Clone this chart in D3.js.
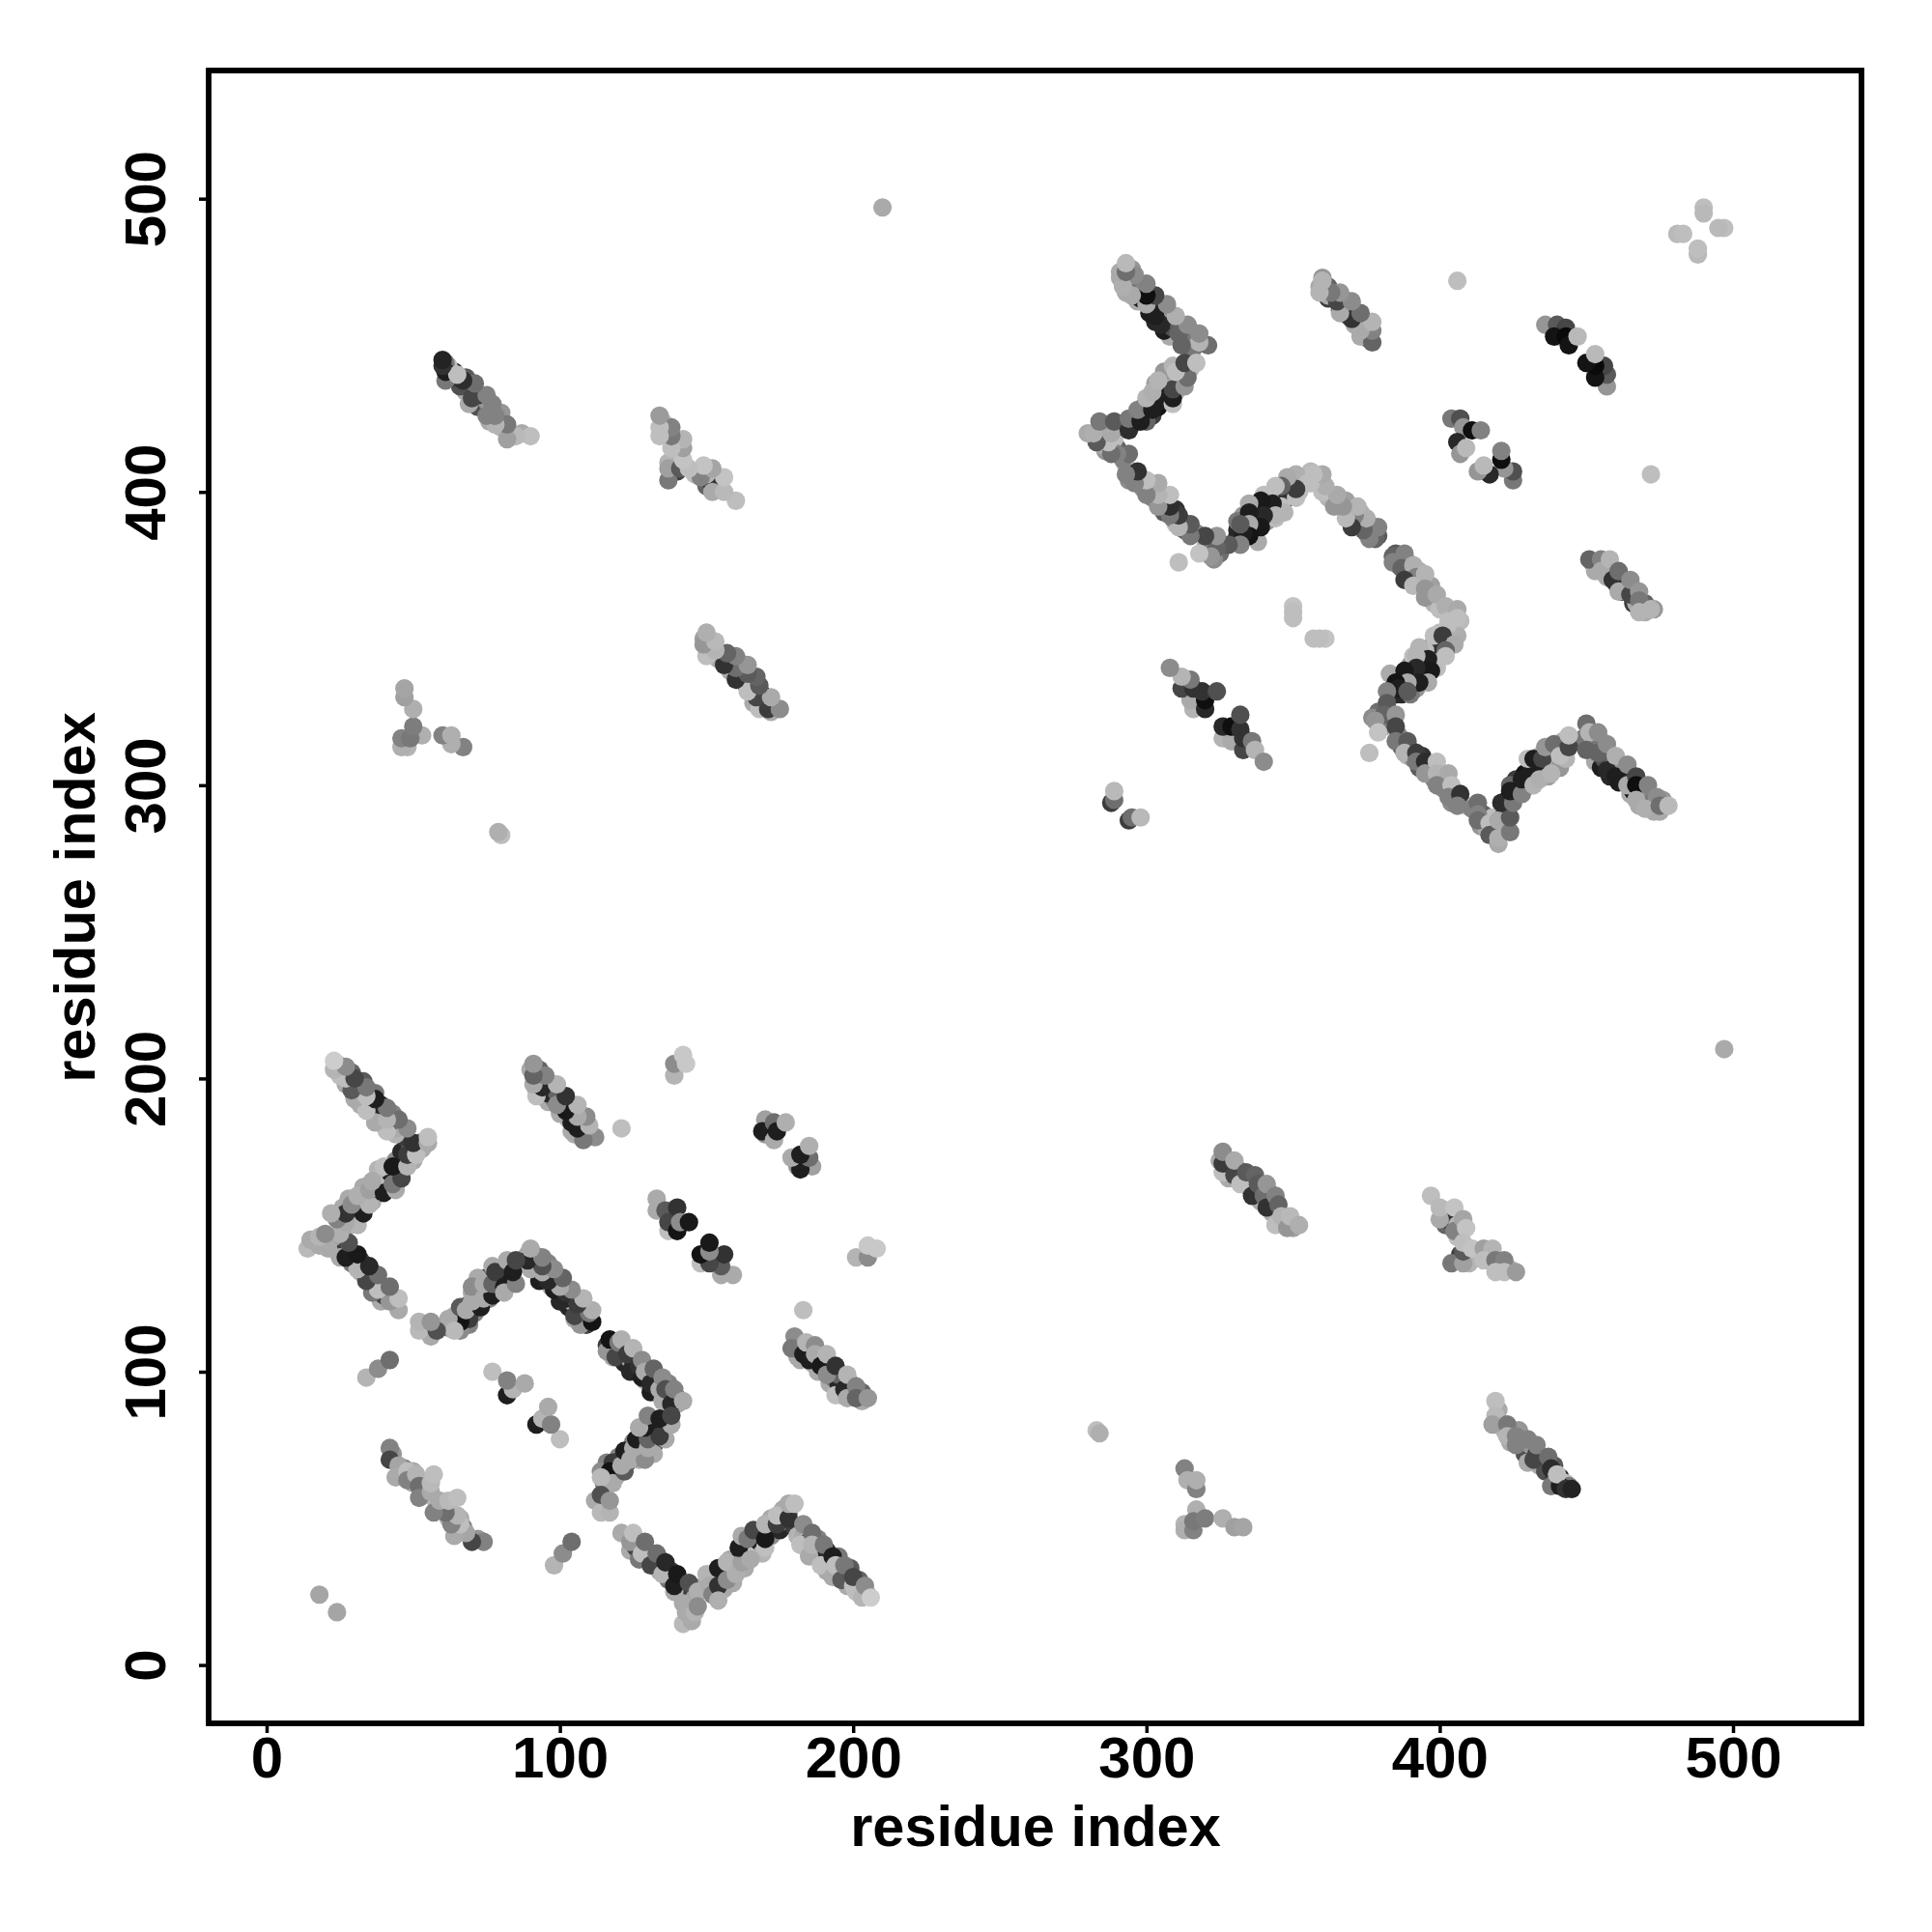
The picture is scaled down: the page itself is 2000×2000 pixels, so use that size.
<!DOCTYPE html>
<html><head><meta charset="utf-8">
<script src="https://cdn.jsdelivr.net/npm/d3@7/dist/d3.min.js"></script>
<style>html,body{margin:0;padding:0;background:#fff}svg{display:block}</style>
</head><body><div id="chart"></div>
<script>
// Each contact is [residue i, residue j, shade]; the map is symmetric, so one triangle is listed.
const tickValues = [0,100,200,300,400,500];
const axisTitle = "residue index";
const bandA1 = [[116,109,60],[118,108,40],[118,105,170],[120,107,50],[122,105,170],[122,103,40],[124,104,170],[125,102,30],[126,100,170],[126,104,120],[129,97,170],[130,98,50],[131,99,25],[133,96,170],[133,93,60],[134,97,110],[136,92,30],[137,91,170],[137,96,130],[140,91,60],[140,89,170]];
const bandA2 = [[115,62,120],[116,69,130],[117,64,150],[119,67,30],[119,64,170],[120,71,130],[121,70,60],[123,69,50],[123,71,170],[125,71,30],[125,76,130],[127,73,60],[127,70,170],[128,75,170],[128,77,40],[128,72,25],[129,79,130],[131,79,120],[132,75,40],[132,72,170],[133,81,170],[135,80,100],[136,77,170],[131,83,170],[136,83,50],[134,81,30]];
const bandA3 = [[124,39,170],[126,40,70],[127,36,120],[130,37,40],[132,34,30],[134,32,170],[134,36,30],[137,29,120],[138,32,60],[140,26,60],[141,24,170],[141,28,25],[143,24,120],[143,21,170],[144,23,60],[145,20,150],[144,16,170],[146,23,160]];
const bandA4 = [[149,27,170],[151,30,60],[152,29,30],[153,25,170],[155,30,30],[156,26,170],[156,32,120],[158,33,25],[158,36,170],[159,28,170],[160,35,30],[161,33,150],[163,38,30],[163,33,170],[163,40,170],[165,39,50],[166,41,180],[167,38,190],[167,44,40],[168,42,30],[169,45,120],[169,38,180],[171,46,60],[172,50,170],[172,44,140],[175,46,40],[176,49,110],[176,53,170],[178,52,120]];
const bandA5 = [[180,47,60],[181,44,180],[183,44,170],[184,40,170],[185,42,50],[187,38,160],[188,43,130],[188,37,30],[190,36,60],[191,32,170],[191,39,40],[192,35,80],[194,30,60],[195,37,120],[196,32,50],[198,27,170],[198,31,40],[199,33,90],[201,25,190],[202,29,100],[205,24,170]];
const bandStrandA = [[181,105,170],[181,110,50],[182,104,170],[184,107,40],[186,103,170],[188,104,50],[188,100,170],[190,103,100],[192,100,60],[192,96,170],[193,98,120],[195,96,40],[195,99,100],[196,92,170],[199,96,130],[199,93,30],[200,92,170],[203,93,100],[203,90,170]];
const bandCrossA = [[325,172,170],[328,170,60],[328,166,170],[331,169,40],[333,166,170],[335,163,60],[335,166,170],[339,162,50],[339,158,170],[342,161,110],[342,158,80],[343,154,170],[347,151,170],[350,149,160]];
const bandCrossB = [[401,154,160],[402,150,100],[403,152,170],[404,151,50],[406,146,190],[406,150,180],[407,140,60],[410,137,180],[417,140,120],[421,136,100],[424,135,180]];
const bandCrossD = [[420,87,170],[420,83,150],[422,80,180],[424,76,170],[427,80,150],[428,75,170],[429,72,80],[431,75,150],[433,72,50],[434,68,170],[435,70,130],[436,66,80],[439,68,90],[439,64,60],[441,64,40],[442,62,60],[443,62,190],[444,61,120]];
const bandStrandB = [[452,376,120],[453,373,170],[456,374,60],[457,371,170],[459,373,120],[460,369,60],[462,370,120],[462,366,40],[463,368,170],[466,367,130],[466,362,60],[467,362,170],[470,362,100],[470,359,170],[473,360,150]];
const bandPatchA5 = [[43,72,150],[46,65,170],[47,67,130],[50,62,170],[50,66,170],[54,60,180],[54,62,170],[55,58,180]];
const bandB1 = [[385,379,90],[386,375,100],[389,376,120],[390,372,100],[393,373,175],[393,369,160],[397,368,160],[398,362,180],[400,360,190],[404,358,190],[407,356,185]];
const bandB2 = [[400,352,190],[404,349,170],[399,348,120],[400,345,150],[403,350,180],[397,347,50],[395,346,190],[395,340,30],[394,342,100],[394,338,180],[398,342,160],[396,338,30],[399,340,190],[391,337,40],[390,341,150],[389,337,180],[392,333,150],[388,334,30],[387,337,100],[385,331,30],[387,331,40],[384,333,80],[390,331,120],[383,338,170],[391,344,190]];
const bandB3 = [[379,325,110],[381,320,170],[377,323,140],[383,321,130],[386,317,140],[387,313,90],[389,310,190],[390,312,100],[391,309,130],[393,306,90],[394,310,50],[396,306,170],[397,306,40],[398,302,130],[400,302,160],[402,302,190],[401,299,140],[404,294,140],[405,296,80],[409,293,190],[411,292,130],[414,286,150],[415,290,100],[416,285,170],[418,289,190],[419,285,80],[418,283,140],[422,285,170],[422,290,70]];
const bandB4 = [[423,295,60],[426,299,100],[426,302,60],[429,299,120],[429,304,20],[431,302,60],[433,306,60],[433,303,170],[434,310,180],[435,305,90],[436,307,30],[437,303,160],[437,310,190],[439,307,170],[441,306,150],[442,312,60],[443,309,180],[442,315,180],[446,315,100]];
const bandB5 = [[449,316,120],[452,314,150],[453,308,170],[455,306,30],[455,315,120],[456,309,80],[458,303,40],[459,307,100],[461,301,30],[462,305,150],[463,302,40],[465,297,170],[466,298,20],[466,301,60],[469,297,60],[468,293,170],[470,298,140],[472,294,120],[473,291,170],[476,295,150]];

const helixA1 = [[116,107,150],[119,105,70],[117,111,20],[120,110,120],[121,111,175],[124,100,40],[123,106,60],[125,108,180],[128,98,30],[127,102,50],[128,104,140],[129,100,170],[131,93,30],[131,96,40],[132,101,100],[134,94,170],[135,90,170],[135,98,140],[136,94,80],[138,89,40],[139,94,130],[142,90,170]];
const helixA2 = [[114,66,140],[118,69,60],[117,66,20],[118,62,170],[114,64,185],[122,66,90],[121,68,170],[122,73,30],[126,71,40],[124,70,170],[129,70,140],[125,74,170],[126,77,30],[130,74,170],[130,77,100],[134,78,60],[129,81,30],[127,81,170],[130,85,130],[138,82,170],[134,84,30],[138,85,70],[112,56,170],[114,52,185],[117,52,180],[114,58,80],[117,56,150]];
const helixA3 = [[121,45,170],[124,42,150],[125,45,190],[128,38,190],[129,42,110],[131,34,70],[133,38,110],[135,31,180],[136,35,40],[139,25,170],[139,27,30],[140,31,25],[142,21,170],[144,28,80],[142,14,185],[145,15,170],[143,18,170],[146,18,180],[147,25,175],[147,20,140]];
const helixA4 = [[150,31,180],[151,27,170],[152,24,130],[154,33,30],[154,27,50],[154,22,175],[157,29,140],[157,35,180],[160,31,175],[162,35,160],[161,40,30],[162,44,170],[165,36,170],[164,43,120],[166,46,70],[170,40,190],[170,43,25],[170,48,180],[174,48,60],[174,51,190],[178,50,50],[178,55,170],[180,55,190]];
const helixA5 = [[182,41,190],[183,48,140],[185,37,170],[186,45,110],[186,41,180],[189,34,190],[190,41,120],[193,30,170],[193,37,30],[194,34,190],[196,29,90],[197,34,120],[200,27,190],[200,30,70],[203,23,180],[204,27,140],[206,23,205]];
const strandA = [[183,121,190],[180,112,140],[179,108,120],[183,106,30],[184,110,180],[187,109,140],[185,104,30],[187,106,170],[189,102,25],[191,106,180],[191,99,140],[194,102,50],[194,92,190],[197,94,40],[198,91,170],[198,99,180],[201,95,130],[201,91,100],[205,91,150]];
const patchA1 = [[170,186,160],[170,181,150],[169,182,30],[173,179,170],[173,185,110],[174,182,30],[177,185,175]];
const patchA2 = [[133,159,170],[133,155,170],[136,155,90],[137,148,190],[137,151,70],[140,148,20],[140,156,50],[141,151,140],[144,151,25]];
const patchA3 = [[201,139,180],[205,139,140],[205,143,200],[208,142,200]];
const patchA4 = [[34,98,180],[38,101,140],[42,104,110],[77,100,190],[82,92,30],[84,94,180],[82,97,130],[88,96,170],[24,18,165]];
const patchA5 = [[42,74,130],[42,70,70],[45,68,165],[44,64,170],[48,66,190],[48,63,130],[51,65,180],[52,61,110],[52,57,130],[56,59,170],[56,62,185],[57,65,190]];
const crossA = [[326,168,190],[326,171,60],[326,175,140],[330,167,70],[330,172,170],[332,164,190],[334,168,90],[336,160,50],[337,167,100],[338,164,90],[340,160,110],[341,156,50],[341,164,150],[344,150,190],[344,160,130],[345,157,100],[346,153,180],[348,149,150],[349,153,185],[352,150,175]];
const crossB = [[397,160,190],[400,152,170],[400,156,185],[405,148,130],[405,156,195],[408,152,165],[409,149,195],[404,137,120],[408,137,160],[408,141,90],[408,144,190],[411,142,195],[415,142,160],[418,142,180],[415,138,190],[419,138,120],[422,138,130],[419,134,190],[422,134,190],[426,134,155]];
const crossC = [[313,67,130],[314,63,175],[317,60,130],[317,63,175],[317,53,175],[313,48,180],[313,46,175],[316,46,130],[316,49,120],[320,50,125],[326,50,175],[330,47,160],[333,47,165],[283,80,190],[284,79,175]];
const crossD = [[419,90,190],[419,85,185],[418,82,160],[423,82,120],[423,78,180],[426,78,130],[426,75,130],[430,77,130],[430,69,170],[432,70,70],[433,75,130],[437,71,110],[438,67,45],[438,61,120],[441,61,30],[440,65,190],[443,60,50],[445,60,35]];
const crossE = [[210,497,170]];
const helixB1 = [[384,378,100],[384,376,130],[388,379,130],[387,374,100],[391,375,175],[392,371,130],[388,370,60],[391,368,185],[395,372,180],[395,367,150],[395,364,150],[399,365,170],[402,361,175],[403,356,190],[406,360,170],[406,357,190]];
const helixB2 = [[406,351,175],[403,355,190],[398,351,190],[401,351,60],[405,348,170],[402,346,100],[402,344,190],[393,347,180],[396,343,30],[392,344,180],[397,339,25],[396,335,170],[392,340,40],[388,339,25],[393,335,30],[389,335,170],[385,335,20],[386,333,30],[389,332,90],[382,332,130]];
const helixB3 = [[382,328,90],[381,324,100],[378,322,150],[379,318,195],[385,324,150],[385,320,70],[385,315,120],[389,315,90],[376,311,190],[388,311,180],[392,311,60],[392,308,120],[395,308,45],[395,304,150],[399,308,190],[399,304,180],[403,304,170],[399,300,130],[404,300,190],[403,296,130],[407,297,50],[406,293,130],[413,294,110],[413,290,130],[413,288,110],[417,287,190],[417,283,90],[420,280,170],[420,282,175],[420,288,170],[424,284,120],[424,289,90],[421,294,45],[425,294,120]];
const helixB4 = [[424,300,100],[424,298,30],[428,297,130],[428,302,30],[431,305,30],[432,300,180],[430,309,190],[434,302,175],[432,309,30],[435,309,70],[438,304,180],[436,313,150],[439,314,110],[441,310,190],[444,313,70],[444,317,190]];
const helixB5 = [[450,321,110],[451,318,180],[454,318,140],[450,312,100],[454,311,100],[457,314,140],[457,305,40],[460,310,175],[460,303,30],[464,307,140],[464,300,170],[467,303,70],[467,300,15],[467,295,170],[471,300,130],[474,296,140],[470,292,175],[475,291,170],[475,293,110],[478,293,185]];
const strandB = [[451,377,100],[455,377,130],[455,373,170],[458,377,180],[459,370,50],[461,373,110],[461,366,170],[465,365,70],[465,370,140],[468,366,150],[468,363,120],[468,359,180],[472,360,180],[472,406,190]];
const patchB1 = [[404,425,120],[407,425,80],[408,422,150],[411,421,15],[414,421,130],[406,417,40],[407,413,150],[409,415,185]];
const patchB2 = [[440,453,185],[436,457,150],[440,457,90],[443,456,70],[439,453,20],[443,453,10],[444,450,20],[447,453,185]];
const patchB3 = [[350,361,195],[350,359,190],[350,357,190],[481,488,185],[483,488,190],[490,497,190],[490,495,185]];
const patchB4 = [[316,326,180],[315,329,170],[320,326,40],[320,329,15],[312,333,70],[316,333,50],[319,332,50],[324,332,80],[315,336,120],[312,337,180],[308,340,140],[288,294,60],[289,295,110],[289,298,185]];

const contacts = [bandA1,bandA2,bandA3,bandA4,bandA5,bandStrandA,bandCrossA,bandCrossB,bandCrossD,bandStrandB,bandPatchA5,bandB1,bandB2,bandB3,bandB4,bandB5,
  helixA1,helixA2,helixA3,helixA4,helixA5,strandA,patchA1,patchA2,patchA3,patchA4,patchA5,
  crossA,crossB,crossC,crossD,crossE,helixB1,helixB2,helixB3,helixB4,helixB5,strandB,patchB1,patchB2,patchB3,patchB4].flat();

const W = 2000, H = 2000;
const frame = {left:216, right:1927, top:73, bottom:1784};
const x = d3.scaleLinear().domain([-19.76, 543.8]).range([frame.left, frame.right]);
const y = d3.scaleLinear().domain([-19.9, 543.7]).range([frame.bottom, frame.top]);
const shade = d3.scaleLinear().domain([0,255]).range(["#000000","#ffffff"]);

const svg = d3.select("#chart").append("svg").attr("width",W).attr("height",H)
  .style("font-family","'Liberation Sans', Arial, sans-serif").style("font-weight","bold");

const mirrored = contacts.flatMap(d => [{a:d[0],b:d[1],s:d[2]},{a:d[1],b:d[0],s:d[2]}]);
svg.append("g").selectAll("circle").data(mirrored).join("circle")
  .attr("cx",d=>x(d.a)).attr("cy",d=>y(d.b)).attr("r",9.6).attr("fill",d=>shade(d.s));

const xAxis = svg.append("g").attr("transform",`translate(0,${frame.bottom})`)
  .call(d3.axisBottom(x).tickValues(tickValues).tickFormat(d3.format("d")).tickSize(10).tickPadding(3));
const yAxis = svg.append("g").attr("transform",`translate(${frame.left},0)`)
  .call(d3.axisLeft(y).tickValues(tickValues).tickFormat(d3.format("d")).tickSize(10));
[xAxis,yAxis].forEach(g=>{
  g.select(".domain").remove();
  g.selectAll(".tick line").attr("stroke","#000").attr("stroke-width",3.5);
  g.selectAll("text").attr("fill","#000").style("font-family","'Liberation Sans', Arial, sans-serif").style("font-weight","bold").style("font-size","60px");
});
xAxis.selectAll("text").attr("dy",null).attr("y",56);
yAxis.selectAll("text").attr("x",null).attr("dy",null)
  .attr("text-anchor","middle").attr("transform","translate(-45,0) rotate(-90)");

svg.append("rect").attr("x",frame.left).attr("y",frame.top)
  .attr("width",frame.right-frame.left).attr("height",frame.bottom-frame.top)
  .attr("fill","none").attr("stroke","#000").attr("stroke-width",5.8);

svg.append("text").attr("x",1072).attr("y",1911).attr("text-anchor","middle").style("font-size","59.5px").text(axisTitle);
svg.append("text").attr("transform","translate(98,929) rotate(-90)").attr("text-anchor","middle").style("font-size","59.5px").text(axisTitle);
</script></body></html>
